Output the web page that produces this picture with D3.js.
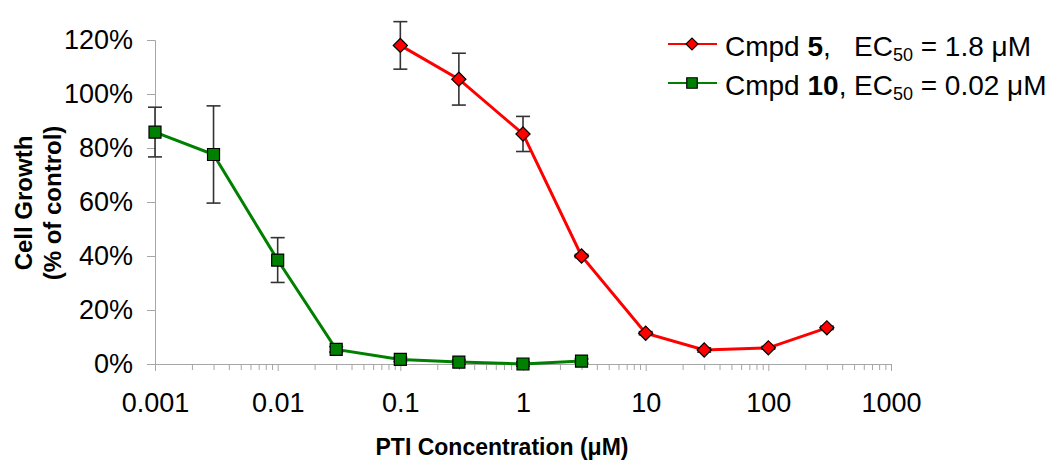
<!DOCTYPE html>
<html>
<head>
<meta charset="utf-8">
<script src="https://cdnjs.cloudflare.com/ajax/libs/d3/7.8.5/d3.min.js"></script>
<style>
  body { margin: 0; background: #fff; }
  svg { font-family: "Liberation Sans", Arial, sans-serif; }
</style>
</head>
<body>
<div id="chart"></div>
<script>
// concentrations (uM) and growth (% of control) with error (+/-)
const cmpd5Conc = [0.1, 0.3, 1, 3, 10, 30, 100, 300];
const cmpd5Growth = [118, 105.5, 85.2, 40, 11.4, 5.2, 6.0, 13.4];
const cmpd5Err = [8.8, 9.6, 6.5, 0.6, 0.6, 0.8, 0.5, 0.6];

const cmpd10Conc = [0.001, 0.003, 0.01, 0.03, 0.1, 0.3, 1, 3];
const cmpd10Growth = [85.9, 77.6, 38.5, 5.4, 1.7, 0.7, 0.0, 1.1];
const cmpd10Err = [9.2, 18.0, 8.3, 1.0, 0.8, 0.8, 0.8, 0.8];

const yTicks = [0, 20, 40, 60, 80, 100, 120];
const xTicks = [0.001, 0.01, 0.1, 1, 10, 100, 1000];

const width = 1050, height = 473;

const svg = d3.select('#chart')
  .append('svg')
  .attr('width', width)
  .attr('height', height);

const x = d3.scaleLog().domain([0.001, 1000]).range([155, 891]);
const y = d3.scaleLinear().domain([0, 120]).range([364, 40]);

const axisColor = '#a6a6a6';

// y axis
const yAxis = svg.append('g')
  .attr('transform', 'translate(155,0)')
  .call(d3.axisLeft(y).tickValues(yTicks).tickSize(8).tickPadding(14)
    .tickFormat(d => d + '%'));
yAxis.select('.domain').attr('stroke', axisColor);
yAxis.selectAll('.tick line').attr('stroke', axisColor);
yAxis.selectAll('.tick text')
  .attr('font-size', 27)
  .attr('font-family', '"Liberation Sans", Arial, sans-serif')
  .attr('fill', '#000');

// x axis with minor ticks
const minorTicks = [];
for (let e = -3; e < 3; e++) {
  for (let m = 2; m <= 9; m++) minorTicks.push(m * Math.pow(10, e));
}
const xMinor = svg.append('g')
  .attr('transform', 'translate(0,364)')
  .call(d3.axisBottom(x).tickValues(minorTicks).tickSize(6).tickFormat(''));
xMinor.select('.domain').remove();
xMinor.selectAll('.tick line').attr('stroke', axisColor);

const xAxis = svg.append('g')
  .attr('transform', 'translate(0,364)')
  .call(d3.axisBottom(x).tickValues(xTicks).tickSize(7).tickSizeOuter(0).tickPadding(22)
    .tickFormat(d => String(d)));
xAxis.select('.domain').attr('stroke', axisColor);
xAxis.selectAll('.tick line').attr('stroke', axisColor);
xAxis.selectAll('.tick text')
  .attr('font-size', 27)
  .attr('font-family', '"Liberation Sans", Arial, sans-serif')
  .attr('fill', '#000');

// axis titles
svg.append('text')
  .attr('x', 502).attr('y', 455)
  .attr('text-anchor', 'middle')
  .attr('font-weight', 'bold')
  .attr('font-size', 23)
  .text('PTI Concentration (\u03bcM)');

const yTitle = svg.append('text')
  .attr('transform', 'translate(0,203) rotate(-90)')
  .attr('text-anchor', 'middle')
  .attr('font-weight', 'bold')
  .attr('font-size', 24);
yTitle.append('tspan').attr('x', 0).attr('y', 32).text('Cell Growth');
yTitle.append('tspan').attr('x', 0).attr('y', 61).text('(% of control)');

const series = [
  { conc: cmpd10Conc, growth: cmpd10Growth, err: cmpd10Err, color: '#008000', rot: 0, size: 144 },
  { conc: cmpd5Conc, growth: cmpd5Growth, err: cmpd5Err, color: '#ff0000', rot: 45, size: 100 }
];

const line = d3.line().x(d => x(d[0])).y(d => y(d[1]));

series.forEach(s => {
  const pts = s.conc.map((c, i) => [c, s.growth[i], s.err[i]]);

  svg.append('path')
    .datum(pts)
    .attr('fill', 'none')
    .attr('stroke', s.color)
    .attr('stroke-width', 3)
    .attr('d', line);

  const eb = svg.append('g').attr('stroke', '#333').attr('stroke-width', 1.6);
  pts.forEach(p => {
    const cx = x(p[0]);
    eb.append('line').attr('x1', cx).attr('x2', cx)
      .attr('y1', y(p[1] + p[2])).attr('y2', y(p[1] - p[2]));
    eb.append('line').attr('x1', cx - 7).attr('x2', cx + 7)
      .attr('y1', y(p[1] + p[2])).attr('y2', y(p[1] + p[2]));
    eb.append('line').attr('x1', cx - 7).attr('x2', cx + 7)
      .attr('y1', y(p[1] - p[2])).attr('y2', y(p[1] - p[2]));
  });

  svg.append('g').selectAll('path')
    .data(pts)
    .enter()
    .append('path')
    .attr('transform', d => `translate(${x(d[0])},${y(d[1])}) rotate(${s.rot})`)
    .attr('d', d3.symbol().type(d3.symbolSquare).size(s.size))
    .attr('fill', s.color)
    .attr('stroke', '#000')
    .attr('stroke-width', 1.2);
});

// legend
const legend = [
  { color: '#ff0000', rot: 45, size: 72, y: 44, cmpd: '5', ec: '1.8' },
  { color: '#008000', rot: 0, size: 110, y: 83, cmpd: '10', ec: '0.02' }
];
legend.forEach(l => {
  const g = svg.append('g');
  g.append('line')
    .attr('x1', 668).attr('x2', 717)
    .attr('y1', l.y).attr('y2', l.y)
    .attr('stroke', l.color).attr('stroke-width', 2);
  g.append('path')
    .attr('transform', `translate(692,${l.y}) rotate(${l.rot})`)
    .attr('d', d3.symbol().type(d3.symbolSquare).size(l.size))
    .attr('fill', l.color)
    .attr('stroke', '#000')
    .attr('stroke-width', 1.2);
  const t = g.append('text')
    .attr('x', 725).attr('y', l.y + 12)
    .attr('font-size', 28);
  t.append('tspan').text('Cmpd ');
  t.append('tspan').attr('font-weight', 'bold').text(l.cmpd);
  t.append('tspan').text(',');
  t.append('tspan').attr('x', 854).text('EC');
  t.append('tspan').attr('font-size', 18).attr('dy', 5).text('50');
  t.append('tspan').attr('dy', -5).text(' = ' + l.ec + ' \u03bcM');
});
</script>
</body>
</html>
